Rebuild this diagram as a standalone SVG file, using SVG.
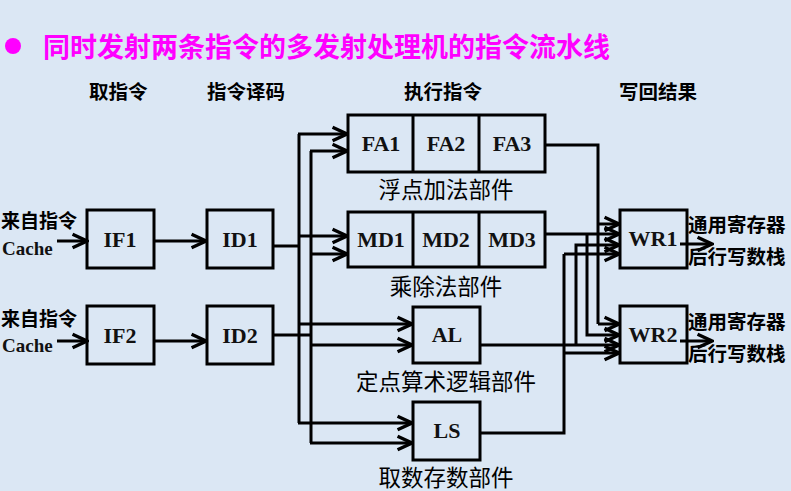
<svg xmlns="http://www.w3.org/2000/svg" width="791" height="491" viewBox="0 0 791 491">
<defs>
<marker id="arr" markerUnits="userSpaceOnUse" markerWidth="20" markerHeight="20" viewBox="-16 -8 18 16" refX="0" refY="0" orient="auto">
<path d="M-13,-6 L0,0 L-13,6" fill="none" stroke="#000" stroke-width="3" stroke-linejoin="miter"/>
</marker>
</defs>
<style>
.box{fill:none;stroke:#000;stroke-width:3}
.ln{fill:none;stroke:#000;stroke-width:3}
.ar{fill:none;stroke:#000;stroke-width:3;marker-end:url(#arr)}
.bl{font-family:"Liberation Serif",serif;font-weight:bold;font-size:22px;fill:#111;text-anchor:middle}
.cn{font-family:"Noto Sans CJK SC",sans-serif;font-size:22.5px;fill:#000;text-anchor:middle}
.hd{font-family:"Noto Sans CJK SC",sans-serif;font-weight:bold;font-size:19.5px;fill:#000}
.side{font-family:"Noto Sans CJK SC",sans-serif;font-weight:bold;font-size:19.5px;fill:#000}
.src{font-family:"Noto Sans CJK SC",sans-serif;font-weight:bold;font-size:19px;fill:#000}
.cache{font-family:"Liberation Serif",serif;font-weight:bold;font-size:19px;fill:#111}
</style>
<rect width="791" height="491" fill="#dbe7f4"/>
<circle cx="13" cy="46" r="8" fill="#ff00ff"/>
<text x="43" y="57" font-family="Noto Sans CJK SC,sans-serif" font-size="27" font-weight="bold" fill="#ff00ff">同时发射两条指令的多发射处理机的指令流水线</text>
<text class="hd" x="89" y="99">取指令</text>
<text class="hd" x="207" y="99">指令译码</text>
<text class="hd" x="404" y="99">执行指令</text>
<text class="hd" x="619" y="99">写回结果</text>

<g id="inputs">
<text class="src" x="1" y="228">来自指令</text>
<text class="cache" x="2" y="255">Cache</text>
<text class="src" x="1" y="326">来自指令</text>
<text class="cache" x="2" y="352">Cache</text>
</g>

<g id="IF1"><rect class="box" x="87" y="210" width="67" height="58"/><text class="bl" x="120" y="247">IF1</text></g>
<g id="IF2"><rect class="box" x="87" y="306" width="67" height="58"/><text class="bl" x="120" y="343">IF2</text></g>
<g id="ID1"><rect class="box" x="207" y="210" width="66" height="58"/><text class="bl" x="240" y="247">ID1</text></g>
<g id="ID2"><rect class="box" x="207" y="306" width="66" height="58"/><text class="bl" x="240" y="343">ID2</text></g>

<g id="FA">
<rect class="box" x="348" y="115" width="197" height="57"/>
<line class="ln" x1="413" y1="115" x2="413" y2="172"/>
<line class="ln" x1="479" y1="115" x2="479" y2="172"/>
<text class="bl" x="381" y="151">FA1</text>
<text class="bl" x="446" y="151">FA2</text>
<text class="bl" x="512" y="151">FA3</text>
<text class="cn" x="446" y="198">浮点加法部件</text>
</g>
<g id="MD">
<rect class="box" x="348" y="212" width="197" height="55"/>
<line class="ln" x1="413" y1="212" x2="413" y2="267"/>
<line class="ln" x1="479" y1="212" x2="479" y2="267"/>
<text class="bl" x="381" y="247">MD1</text>
<text class="bl" x="446" y="247">MD2</text>
<text class="bl" x="512" y="247">MD3</text>
<text class="cn" x="446" y="295">乘除法部件</text>
</g>
<g id="AL">
<rect class="box" x="413" y="307" width="67" height="56"/>
<text class="bl" x="447" y="342">AL</text>
<text class="cn" x="446" y="390">定点算术逻辑部件</text>
</g>
<g id="LS">
<rect class="box" x="413" y="402" width="67" height="58"/>
<text class="bl" x="447" y="438">LS</text>
<text class="cn" x="446" y="486">取数存数部件</text>
</g>

<g id="WR1">
<rect class="box" x="620" y="210" width="67" height="58"/>
<text class="bl" x="653" y="246">WR1</text>
<text class="side" x="688" y="232">通用寄存器</text>
<text class="side" x="688" y="264">后行写数栈</text>
</g>
<g id="WR2">
<rect class="box" x="620" y="306" width="67" height="57"/>
<text class="bl" x="653" y="342">WR2</text>
<text class="side" x="688" y="329">通用寄存器</text>
<text class="side" x="688" y="361">后行写数栈</text>
</g>

<g id="connectors">
<line class="ar" x1="57" y1="241" x2="87" y2="241"/>
<line class="ar" x1="57" y1="341" x2="87" y2="341"/>
<line class="ar" x1="154" y1="241" x2="206" y2="241"/>
<line class="ar" x1="154" y1="341" x2="206" y2="341"/>
<line class="ln" x1="273" y1="246" x2="300" y2="246"/>
<line class="ln" x1="273" y1="335" x2="312" y2="335"/>
<polyline class="ln" points="299,134 299,423"/>
<polyline class="ln" points="311,151 311,443"/>
<line class="ar" x1="298" y1="134" x2="347" y2="134"/>
<line class="ar" x1="310" y1="151" x2="347" y2="151"/>
<line class="ar" x1="299" y1="236" x2="347" y2="236"/>
<line class="ar" x1="311" y1="254" x2="347" y2="254"/>
<line class="ar" x1="299" y1="324" x2="412" y2="324"/>
<line class="ar" x1="311" y1="345" x2="412" y2="345"/>
<line class="ar" x1="298" y1="423" x2="412" y2="423"/>
<line class="ar" x1="310" y1="443" x2="412" y2="443"/>

<polyline class="ln" points="545,145 598,145 598,324"/>
<line class="ar" x1="598" y1="224" x2="619" y2="224"/>
<line class="ar" x1="598" y1="324" x2="619" y2="324"/>
<line class="ar" x1="545" y1="234" x2="619" y2="234"/>
<polyline class="ar" points="587,234 587,335 619,335"/>
<line class="ar" x1="480" y1="345" x2="619" y2="345"/>
<polyline class="ar" points="576,345 576,245 619,245"/>
<polyline class="ln" points="480,433 564,433 564,254"/>
<line class="ar" x1="564" y1="254" x2="619" y2="254"/>
<line class="ar" x1="564" y1="353" x2="619" y2="353"/>
<line class="ar" x1="680" y1="244" x2="712" y2="244"/>
<line class="ar" x1="680" y1="341" x2="712" y2="341"/>
</g>
</svg>
